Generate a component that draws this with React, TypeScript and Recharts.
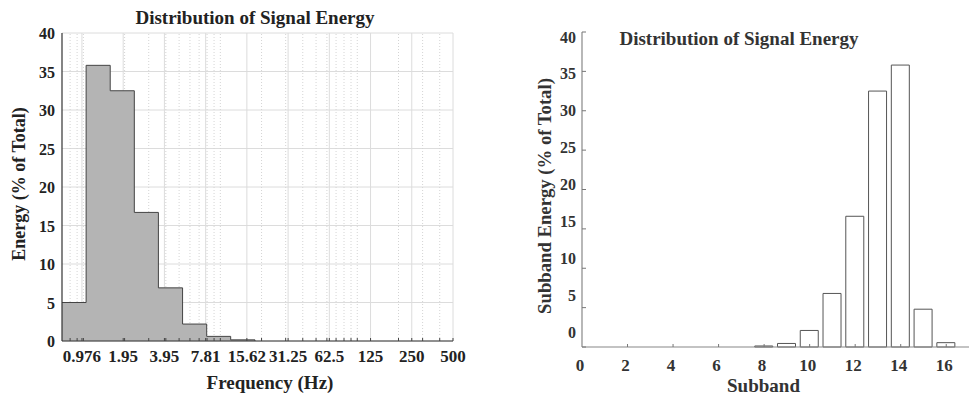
import React from 'react';
import { ComposedChart, Area, XAxis, YAxis, CartesianGrid, ReferenceLine, BarChart, Bar } from 'recharts';

// ---- Left chart data (frequency distribution, log axis) ----
const freqEdges = [0.698, 1.047, 1.57, 2.355, 3.53, 5.3, 7.95, 11.9, 17.9];
const freqEnergy = [5, 35.8, 32.5, 16.7, 6.9, 2.2, 0.6, 0.15, 0];
const freqTicks = [0.976, 1.953, 3.906, 7.8125, 15.625, 31.25, 62.5, 125, 250, 500];
const freqTickLabels = ['0.976', '1.95', '3.95', '7.81', '15.62', '31.25', '62.5', '125', '250', '500'];
const freqMinor = [0.8, 0.9, 1, 2, 3, 4, 5, 6, 7, 8, 9, 10, 20, 30, 40, 50, 60, 70, 80, 90, 100, 200, 300, 400];
const energyTicks = [0, 5, 10, 15, 20, 25, 30, 35, 40];

// ---- Right chart data (subbands) ----
const subbands = [1, 2, 3, 4, 5, 6, 7, 8, 9, 10, 11, 12, 13, 14, 15, 16];
const subbandEnergy = [0, 0, 0, 0, 0, 0, 0, 0.13, 0.45, 2.1, 6.8, 16.6, 32.5, 35.8, 4.8, 0.55];
const subbandTicks = [0, 2, 4, 6, 8, 10, 12, 14, 16];

const leftData = freqEdges.map((f, i) => ({ f, e: freqEnergy[i] }));
const rightData = subbands.map((b, i) => ({ band: b, e: subbandEnergy[i] }));
const allFreqTicks = [...freqTicks, ...freqMinor].sort((a, b) => a - b);

const SERIF = '"Liberation Serif", "Times New Roman", serif';

const FreqTick = (props: any) => {
  const { x, y, payload } = props;
  const idx = freqTicks.indexOf(payload.value);
  return (
    <g>
      <line x1={x} x2={x} y1={y} y2={y - 3} stroke="#444" strokeWidth={1} />
      {idx >= 0 && (
        <text x={x} y={y + 21} textAnchor="middle" fontFamily={SERIF} fontWeight="bold" fontSize={17} fill="#222">
          {freqTickLabels[idx]}
        </text>
      )}
    </g>
  );
};

const LeftYTick = (props: any) => {
  const { x, y, payload } = props;
  return (
    <text x={x - 7} y={y + 6} textAnchor="end" fontFamily={SERIF} fontWeight="bold" fontSize={16} fill="#222">
      {payload.value}
    </text>
  );
};

const SubXTick = (props: any) => {
  const { x, y, payload } = props;
  return (
    <g>
      {payload.value !== 0 && <line x1={x} x2={x} y1={y} y2={y - 3} stroke="#777" strokeWidth={1} />}
      <text x={x - 2} y={y + 24} textAnchor="middle" fontFamily={SERIF} fontWeight="bold" fontSize={17} fill="#333">
        {payload.value}
      </text>
    </g>
  );
};

const SubYTick = (props: any) => {
  const { x, y, payload } = props;
  const shift = 5 - (40 - payload.value) * 0.5;
  return (
    <g>
      <line x1={x} x2={x + 4} y1={y} y2={y} stroke="#777" strokeWidth={1} />
      <text x={x - 6} y={y + shift + 5.5} textAnchor="end" fontFamily={SERIF} fontWeight="bold" fontSize={16} fill="#333">
        {payload.value}
      </text>
    </g>
  );
};

export default function App() {
  return (
    <div style={{ position: 'absolute', left: 0, top: 0, width: 970, height: 398, background: '#fff', overflow: 'hidden' }}>
      <div style={{ position: 'absolute', left: 0, top: 0 }}>
        <ComposedChart width={480} height={398} data={leftData} margin={{ top: 33, right: 27, left: 0, bottom: 0 }}>
          <CartesianGrid vertical={false} stroke="#dcdcdc" />
          {freqMinor.map((v) => (
            <ReferenceLine key={'m' + v} x={v} stroke="#d4d4d4" strokeDasharray="1 2" zIndex={-60} />
          ))}
          {freqTicks.map((v) => (
            <ReferenceLine key={'M' + v} x={v} stroke="#dcdcdc" zIndex={-50} />
          ))}
          <XAxis
            dataKey="f"
            type="number"
            scale="log"
            domain={[0.698, 500]}
            allowDataOverflow
            ticks={allFreqTicks}
            interval={0}
            tickSize={0}
            tickMargin={0}
            height={57}
            axisLine={{ stroke: '#333', strokeWidth: 1.2 }}
            tickLine={false}
            tick={<FreqTick />}
          />
          <YAxis
            type="number"
            domain={[0, 40]}
            ticks={energyTicks}
            interval={0}
            width={62}
            tickSize={0}
            tickMargin={0}
            tickLine={false}
            axisLine={{ stroke: '#333', strokeWidth: 1.2 }}
            tick={<LeftYTick />}
          />
          <Area
            type="stepAfter"
            dataKey="e"
            fill="#b4b4b4"
            fillOpacity={1}
            stroke="#444"
            strokeWidth={1}
            isAnimationActive={false}
            dot={false}
            activeDot={false}
          />
        </ComposedChart>
      </div>
      <div style={{ position: 'absolute', left: 500, top: 0 }}>
        <BarChart width={470} height={398} data={rightData} margin={{ top: 32, right: 1, left: 0, bottom: 0 }}>
          <XAxis
            dataKey="band"
            type="number"
            domain={[0, 17]}
            allowDataOverflow
            ticks={subbandTicks}
            interval={0}
            tickSize={0}
            tickMargin={0}
            height={51}
            axisLine={{ stroke: '#888', strokeWidth: 1.2 }}
            tickLine={false}
            tick={<SubXTick />}
          />
          <YAxis
            type="number"
            domain={[0, 40]}
            ticks={energyTicks}
            interval={0}
            width={82}
            tickSize={0}
            tickMargin={0}
            tickLine={false}
            axisLine={{ stroke: '#888', strokeWidth: 1.2 }}
            tick={<SubYTick />}
          />
          <Bar dataKey="e" fill="#ffffff" stroke="#555" strokeWidth={1} barSize={18} isAnimationActive={false} />
        </BarChart>
      </div>
      <svg width={970} height={398} style={{ position: 'absolute', left: 0, top: 0, pointerEvents: 'none' }}>
        <g fontFamily={SERIF} fontWeight="bold" fill="#222">
          <text x={255} y={23.5} textAnchor="middle" fontSize={19}>Distribution of Signal Energy</text>
          <text x={270} y={388.5} textAnchor="middle" fontSize={19}>Frequency (Hz)</text>
          <text x={25} y={184} textAnchor="middle" fontSize={18} transform="rotate(-90 25 184)">Energy (% of Total)</text>
        </g>
        <g fontFamily={SERIF} fontWeight="bold" fill="#333">
          <text x={739} y={45} textAnchor="middle" fontSize={19}>Distribution of Signal Energy</text>
          <text x={763.5} y={391.5} textAnchor="middle" fontSize={19}>Subband</text>
          <text x={551} y={196} textAnchor="middle" fontSize={18.7} transform="rotate(-90 551 196)">Subband Energy (% of Total)</text>
        </g>
      </svg>
    </div>
  );
}
